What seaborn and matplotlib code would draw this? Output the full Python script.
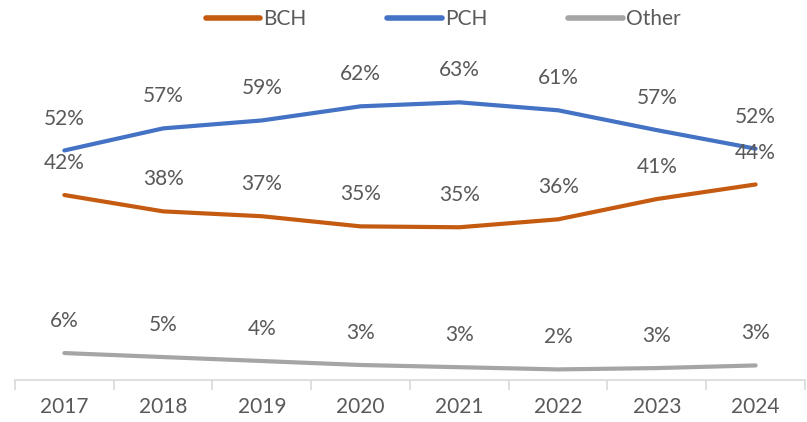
import pandas as pd
import seaborn as sns
import matplotlib.pyplot as plt

# values (share in %)
years = ['2017', '2018', '2019', '2020', '2021', '2022', '2023', '2024']
bch = [41.9, 38.2, 37.1, 34.8, 34.6, 36.4, 41.0, 44.3]
pch = [52.0, 57.0, 58.8, 62.0, 62.9, 61.1, 56.6, 52.4]
other = [6.1, 5.2, 4.3, 3.4, 2.9, 2.4, 2.7, 3.3]
series_names = ['BCH', 'PCH', 'Other']
colors = ['#C55A11', '#4472C4', '#A5A5A5']

df = pd.DataFrame({'Year': years * 3,
                   'Share': bch + pch + other,
                   'Series': [s for s in series_names for _ in years]})
df['x'] = df.groupby('Series').cumcount()

sns.set_style('white')
plt.rcParams['font.family'] = ['Lato', 'DejaVu Sans']
text_color = '#595959'

fig = plt.figure(figsize=(8.07, 4.22), dpi=100)
ax = fig.add_axes([15 / 807, 1 - 380 / 422, 790 / 807, 309 / 422])

sns.lineplot(data=df, x='x', y='Share', hue='Series', hue_order=series_names,
             palette=colors, linewidth=3, solid_capstyle='round', ax=ax, legend=False)

# data labels above each point
for _, row in df.iterrows():
    ax.annotate(f"{row['Share']:.0f}%", (row['x'], row['Share']),
                xytext=(0, 23), textcoords='offset points',
                ha='center', va='center', fontsize=15, color=text_color)

ax.set_xlim(-0.5, len(years) - 0.5)
ax.set_ylim(0, 70)
ax.set_xticks(range(len(years)))
ax.set_xticklabels(years, fontsize=15, color=text_color)
ax.set_xticks([i - 0.5 for i in range(len(years) + 1)], minor=True)
ax.tick_params(axis='x', which='major', length=0, pad=12)
ax.tick_params(axis='x', which='minor', length=7, color='#D9D9D9', width=1.2, direction='out', bottom=True)
ax.set_yticks([])
ax.set_xlabel('')
ax.set_ylabel('')
for side in ['top', 'right', 'left']:
    ax.spines[side].set_visible(False)
ax.spines['bottom'].set_color('#D9D9D9')
ax.spines['bottom'].set_linewidth(1.2)

handles = [plt.Line2D([], [], color=c, linewidth=4, solid_capstyle='round') for c in colors]
leg = fig.legend(handles, series_names, loc='center', bbox_to_anchor=(443 / 807, 1 - 19 / 422),
                 ncol=3, frameon=False, fontsize=15, handlelength=2.6, handletextpad=0.15,
                 columnspacing=3.9)
for t in leg.get_texts():
    t.set_color(text_color)

fig.savefig('out.png', dpi=100)
